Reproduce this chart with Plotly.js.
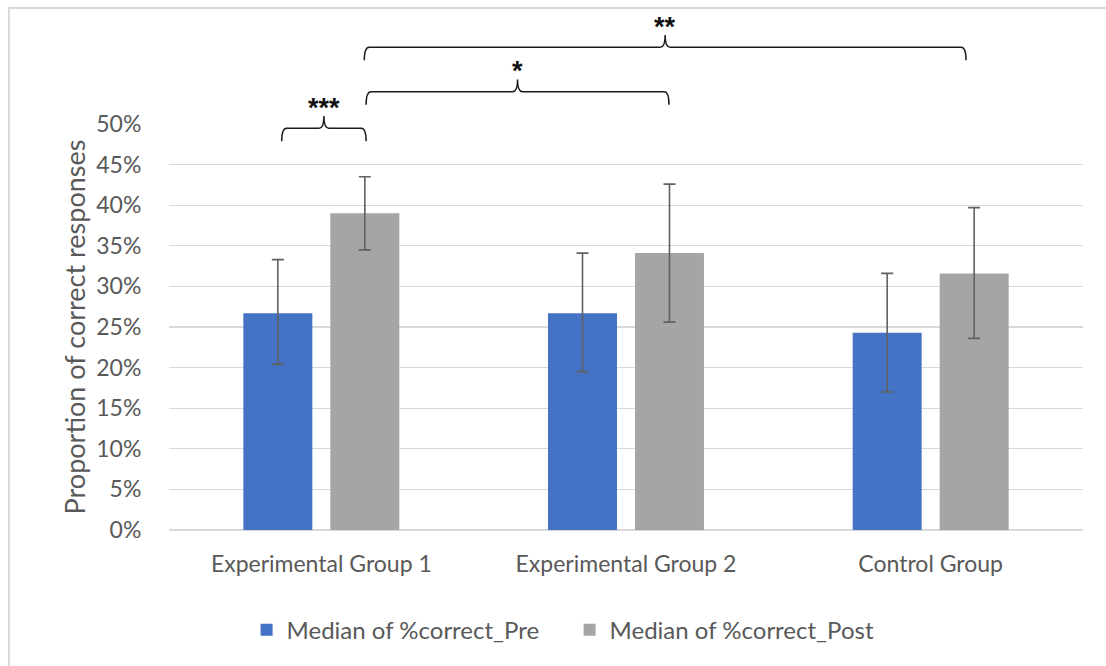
<!DOCTYPE html>
<html>
<head>
<meta charset="utf-8">
<script src="https://cdn.plot.ly/plotly-3.0.1.min.js"></script>
<style>
  html, body { margin: 0; padding: 0; background: #ffffff; overflow: hidden; }
  #frame { position: absolute; left: 8px; top: 7px; width: 1300px; height: 900px;
           border: 2px solid #dadada; box-sizing: border-box; }
  #chart { position: absolute; left: 0; top: 0; width: 1106px; height: 666px; }
</style>
</head>
<body>
<div id="frame"></div>
<div id="chart"></div>
<script>
// ---- data ----
const categories = ["Experimental Group 1", "Experimental Group 2", "Control Group"];
const preName = "Median of %correct_Pre";
const postName = "Median of %correct_Post";
const preMedian = [0.267, 0.267, 0.243];
const preLow    = [0.204, 0.195, 0.170];
const preHigh   = [0.333, 0.341, 0.316];
const postMedian = [0.390, 0.341, 0.316];
const postLow    = [0.345, 0.256, 0.236];
const postHigh   = [0.435, 0.426, 0.397];

const yTickVals = [0, 0.05, 0.10, 0.15, 0.20, 0.25, 0.30, 0.35, 0.40, 0.45, 0.50];
const yTickText = ["0%", "5%", "10%", "15%", "20%", "25%", "30%", "35%", "40%", "45%", "50%"];
const yMax = 0.5;

// significance brackets: start / end position (category index units), level (y units), label
const bracketStart = [-0.13, 0.147, 0.141];
const bracketEnd   = [0.147, 1.141, 2.116];
const bracketLevel = [0.4947, 0.5398, 0.5945];
const bracketLabel = ["***", "*", "**"];

// ---- build ----
const FONT = "Lato, Calibri, 'Open Sans', sans-serif";
const GREY_TXT = "#595959";
const nCat = categories.length;
const px = (x) => (x + 0.5) / nCat;   // category position -> paper x
const py = (y) => y / yMax;            // y value -> paper y

function errObj(mid, lo, hi) {
  return {
    type: "data", symmetric: false,
    array: hi.map((h, i) => h - mid[i]),
    arrayminus: lo.map((l, i) => mid[i] - l),
    color: "#616161", thickness: 1.6, width: 6
  };
}

const traces = [
  { type: "bar", name: preName, x: categories, y: preMedian,
    marker: { color: "#4472C4" }, error_y: errObj(preMedian, preLow, preHigh),
    hoverinfo: "none" },
  { type: "bar", name: postName, x: categories, y: postMedian,
    marker: { color: "#A5A5A5" }, error_y: errObj(postMedian, postLow, postHigh),
    hoverinfo: "none" }
];

const drop = 0.016, rise = 0.015, rx = 0.016, labelGap = 0.0105;
const shapes = [];
const annotations = [];
for (let i = 0; i < bracketStart.length; i++) {
  const a = bracketStart[i], b = bracketEnd[i], L = bracketLevel[i];
  const m = (a + b) / 2;
  const path = `M ${px(a)},${py(L - drop)} Q ${px(a)},${py(L)} ${px(a + rx)},${py(L)} ` +
               `L ${px(m - rx)},${py(L)} ` +
               `Q ${px(m)},${py(L)} ${px(m)},${py(L + rise)} Q ${px(m)},${py(L)} ${px(m + rx)},${py(L)} ` +
               `L ${px(b - rx)},${py(L)} Q ${px(b)},${py(L)} ${px(b)},${py(L - drop)}`;
  shapes.push({ type: "path", xref: "paper", yref: "paper", path: path,
                line: { color: "#1a1a1a", width: 1.5 }, layer: "above" });
  annotations.push({ xref: "paper", yref: "paper", x: px(m), y: py(L + rise + labelGap),
                     text: "<b>" + bracketLabel[i] + "</b>", showarrow: false,
                     xanchor: "center", yanchor: "middle",
                     font: { family: "Arial, sans-serif", size: 27, color: "#111111" } });
}

const layout = {
  width: 1106, height: 666,
  margin: { l: 169, r: 23, t: 124, b: 136 },
  paper_bgcolor: "rgba(0,0,0,0)",
  plot_bgcolor: "rgba(0,0,0,0)",
  barmode: "group", bargap: 0.429, bargroupgap: 0.207,
  font: { family: FONT, color: GREY_TXT },
  xaxis: {
    type: "category", showgrid: false, zeroline: false, showline: false,
    ticks: "outside", ticklen: 13, tickcolor: "rgba(0,0,0,0)",
    tickfont: { family: FONT, size: 23, color: GREY_TXT }
  },
  yaxis: {
    range: [0, yMax], tickvals: yTickVals, ticktext: yTickText,
    showgrid: true, gridcolor: "#d9d9d9", gridwidth: 1.3,
    zeroline: true, zerolinecolor: "#d9d9d9", zerolinewidth: 1.3,
    showline: false,
    ticks: "outside", ticklen: 22, tickcolor: "rgba(0,0,0,0)",
    tickfont: { family: FONT, size: 23, color: GREY_TXT },
    title: { text: "Proportion of correct responses", standoff: 2,
             font: { family: FONT, size: 27, color: GREY_TXT } }
  },
  showlegend: true,
  legend: {
    orientation: "h", xref: "container", yref: "container",
    x: 0.515, xanchor: "center", y: 0.054, yanchor: "middle",
    font: { family: FONT, size: 24, color: GREY_TXT },
    entrywidth: 278, traceorder: "normal"
  },
  shapes: shapes,
  annotations: annotations
};

Plotly.newPlot("chart", traces, layout, { staticPlot: true, displayModeBar: false });
</script>
</body>
</html>
